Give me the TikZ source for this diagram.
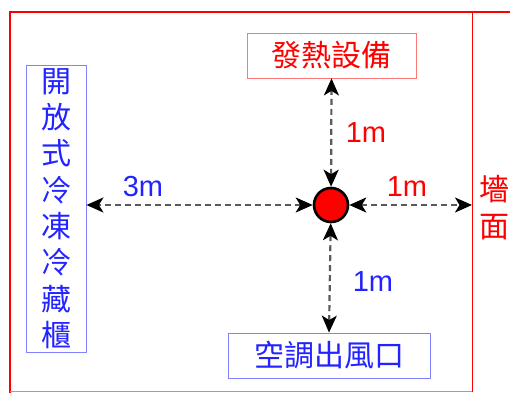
\documentclass[tikz,border=0pt]{standalone}
\usepackage{fontspec}
\setmainfont{Liberation Sans}
\newfontfamily\cjk{Noto Sans CJK TC}
\usetikzlibrary{positioning, arrows.meta}
\definecolor{rot}{RGB}{255,0,0}
\definecolor{hellrot}{RGB}{255,120,120}
\definecolor{blau}{RGB}{35,35,255}
\definecolor{hellblau}{RGB}{130,130,255}
\definecolor{strich}{RGB}{90,90,90}
\tikzset{
    kasten/.style={
        draw,
        line width=0.8pt,     % Duenne Kontur
        inner sep=0pt,
        font=\cjk\fontsize{30}{36.3}\selectfont
    },
    mass/.style={
        font=\fontsize{29}{30}\selectfont
    },
    pfeil/.style={
        draw=strich,
        line width=2.2pt,
        dash pattern=on 6pt off 4pt,
        >={Stealth[length=17pt, width=15pt, inset=4.5pt, color=black]},
        <->
    }
}

\begin{document}
\begin{tikzpicture}[x=1pt, y=-1pt]

    % Feste Bildgroesse wie im Original
    \useasboundingbox (0,0) rectangle (510,393);

    % Raumgrenzen: dicke Aussenlinie, duenne Wand rechts und unten
    \draw[rot, line width=2.2pt] (10,393) -- (10,12) -- (510,12);
    \draw[rot, line width=0.9pt] (472,12) -- (472,392);
    \draw[hellrot, line width=0.9pt] (10,391) -- (472,391);

    % Kaesten
    \node[kasten, draw=hellrot, text=rot, minimum width=169, minimum height=45]
        (ofen) at (331.5,55.5) {發熱設備};
    \node[kasten, draw=hellblau, text=blau, minimum width=202, minimum height=45]
        (luft) at (329,355.5) {空調出風口};
    \node[kasten, draw=hellblau, text=blau, minimum width=60, minimum height=287, align=center]
        (kuehl) at (56,208.5) {開\\放\\式\\冷\\凍\\冷\\藏\\櫃};
    \node[font=\cjk\fontsize{30}{37}\selectfont, text=rot, align=center]
        (wandtext) at (494,208) {墻\\面};

    % Messpunkt
    \node[circle, draw=black, fill=rot, line width=2.6pt, minimum size=34pt, inner sep=0pt]
        (punkt) at (331,205) {};
    \coordinate (wand) at (472,205);

    % Abstaende
    \draw[pfeil] (punkt) -- (ofen.south);
    \draw[pfeil] (punkt) -- (luft.north);
    \draw[pfeil] (punkt) -- (kuehl.east |- punkt);
    \draw[pfeil] (punkt) -- (wand);

    % Beschriftungen
    \node[mass, text=rot]  (m1) at (366,133) {1m};
    \node[mass, text=blau] (m2) at (143,187) {3m};
    \node[mass, text=rot]  (m3) at (407,187) {1m};
    \node[mass, text=blau] (m4) at (373,282) {1m};

\end{tikzpicture}
\end{document}
